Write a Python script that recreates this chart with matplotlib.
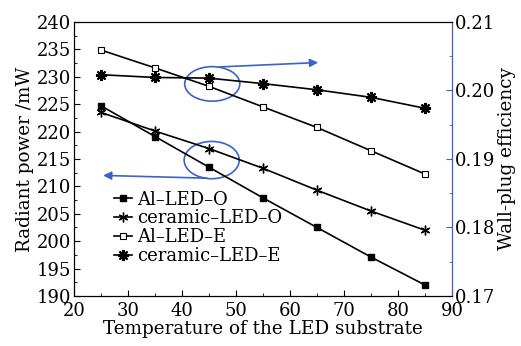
import matplotlib.pyplot as plt
from matplotlib.patches import Ellipse
from matplotlib.ticker import MultipleLocator, FormatStrFormatter

temps = [25, 35, 45, 55, 65, 75, 85]
al_led_o = [224.7, 219.1, 213.5, 207.9, 202.5, 197.1, 192.0]
ceramic_led_o = [223.5, 220.1, 216.9, 213.3, 209.3, 205.5, 202.0]
al_led_e = [0.2059, 0.2033, 0.2006, 0.1976, 0.1946, 0.1912, 0.1878]
ceramic_led_e = [0.2023, 0.2019, 0.2018, 0.2010, 0.2001, 0.1990, 0.1974]

blue = '#3b62c8'
plt.rcParams['font.family'] = 'DejaVu Serif'
plt.rcParams['mathtext.fontset'] = 'dejavuserif'

fig = plt.figure(figsize=(5.21, 3.46), dpi=100)
ax = fig.add_axes([0.142, 0.1445, 0.7256, 0.792])
ax2 = ax.twinx()

l1, = ax.plot(temps, al_led_o, color='k', lw=1.2, marker='s', ms=4.5,
              mfc='k', label='Al–LED–O')
l2, = ax.plot(temps, ceramic_led_o, color='k', lw=1.2, marker=(6, 2, 0), ms=7,
              mew=1.0, label='ceramic–LED–O')
l3, = ax2.plot(temps, al_led_e, color='k', lw=1.2, marker='s', ms=4.5,
               mfc='white', mew=0.8, label='Al–LED–E')
l4, = ax2.plot(temps, ceramic_led_e, color='k', lw=1.2, marker=(8, 2, 0), ms=8,
               mew=1.5, label='ceramic–LED–E')

ax.set_xlim(20, 90)
ax.set_ylim(190, 240)
ax2.set_ylim(0.17, 0.21)
ax.xaxis.set_major_locator(MultipleLocator(10))
ax.xaxis.set_minor_locator(MultipleLocator(5))
ax.yaxis.set_major_locator(MultipleLocator(5))
ax.yaxis.set_minor_locator(MultipleLocator(2.5))
ax2.yaxis.set_major_locator(MultipleLocator(0.01))
ax2.yaxis.set_minor_locator(MultipleLocator(0.005))
ax2.yaxis.set_major_formatter(FormatStrFormatter('%.2f'))

ax.tick_params(axis='both', which='both', direction='in', labelsize=13)
ax.tick_params(axis='y', pad=2)
ax.tick_params(axis='x', pad=4)
ax.tick_params(which='major', length=4)
ax.tick_params(which='minor', length=2)
ax2.tick_params(axis='y', which='both', direction='in', colors=blue,
                labelcolor='k', labelsize=13, pad=2)
ax2.tick_params(which='major', length=4)
ax2.tick_params(which='minor', length=2)
ax2.spines['right'].set_color(blue)

ax.set_xlabel('Temperature of the LED substrate', fontsize=13.2, labelpad=0)
ax.set_ylabel('Radiant power /mW', fontsize=13.2, labelpad=2)
ax2.set_ylabel('Wall-plug efficiency', fontsize=13.2, labelpad=2)

# ellipses and arrows
ax.add_patch(Ellipse((45.6, 228.7), 10.2, 6.3, fill=False, ec=blue, lw=1.2))
ax.add_patch(Ellipse((45.5, 214.8), 10.2, 6.8, fill=False, ec=blue, lw=1.2))
ax.annotate('', xy=(65.2, 232.6), xytext=(47.0, 231.8),
            arrowprops=dict(arrowstyle='-|>', color=blue, lw=1.2,
                            mutation_scale=12, shrinkA=0, shrinkB=0))
ax.annotate('', xy=(25.4, 212.0), xytext=(44.6, 211.5),
            arrowprops=dict(arrowstyle='-|>', color=blue, lw=1.2,
                            mutation_scale=12, shrinkA=0, shrinkB=0))

ax.legend(handles=[l1, l2, l3, l4], loc='upper left',
          bbox_to_anchor=(0.105, 0.385), frameon=False, fontsize=13,
          handlelength=1.0, handletextpad=0.3, labelspacing=0.05,
          borderaxespad=0, borderpad=0)

fig.savefig('out.png', dpi=100)
